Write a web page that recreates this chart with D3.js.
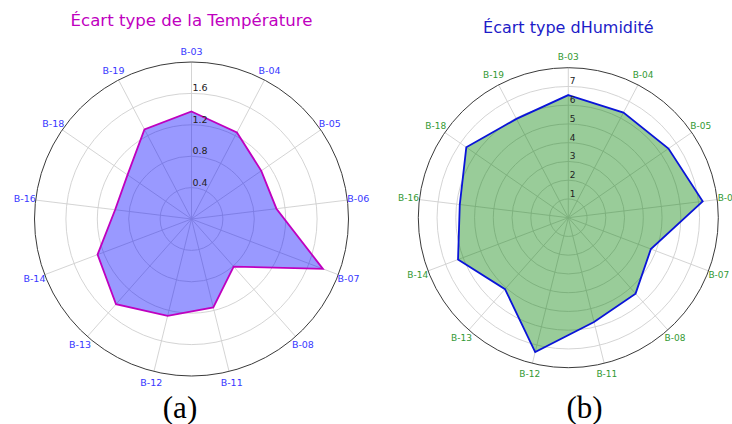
<!DOCTYPE html>
<html>
<head>
<meta charset="utf-8">
<script src="https://cdn.jsdelivr.net/npm/d3@7"></script>
<style>
  html, body { margin: 0; padding: 0; background: #ffffff; }
  svg { display: block; }
</style>
</head>
<body>
<svg id="chart" width="732" height="424"></svg>
<script>
// ---- data ----
const categories = ["B-03","B-04","B-05","B-06","B-07","B-08","B-11","B-12","B-13","B-14","B-16","B-18","B-19"];
const tempStd = [1.37, 1.245, 1.08, 1.09, 1.79, 0.81, 1.16, 1.27, 1.45, 1.28, 0.98, 0.99, 1.29];
const humStd  = [6.54, 6.33, 6.49, 7.22, 4.71, 5.41, 5.73, 7.38, 5.09, 6.29, 5.83, 6.61, 5.95];
const tempTicks = [0.4, 0.8, 1.2, 1.6];
const humTicks = [1, 2, 3, 4, 5, 6, 7];
const tempTitle = "Écart type de la Température";
const humTitle = "Écart type dHumidité";
const captions = ["(a)", "(b)"];

const svg = d3.select("#chart");

function drawRadar(cfg) {
  const g = svg.append("g").attr("transform", `translate(${cfg.cx},${cfg.cy})`);
  const r = d3.scaleLinear().domain([0, cfg.rmax]).range([0, cfg.radius]);
  const angle = d3.scalePoint().domain(categories).range([0, 2 * Math.PI * (categories.length) / categories.length]);
  const step = 2 * Math.PI / categories.length;
  const ang = (d, i) => i * step;

  // grid rings
  g.selectAll("circle.grid").data(cfg.ticks).join("circle")
    .attr("class", "grid").attr("r", d => r(d))
    .attr("fill", "none").attr("stroke", "#cfcfcf").attr("stroke-width", 0.9);

  // spokes
  g.selectAll("line.spoke").data(categories).join("line")
    .attr("class", "spoke")
    .attr("x1", 0).attr("y1", 0)
    .attr("x2", (d, i) => cfg.radius * Math.sin(ang(d, i)))
    .attr("y2", (d, i) => -cfg.radius * Math.cos(ang(d, i)))
    .attr("stroke", "#cfcfcf").attr("stroke-width", 0.9);

  // outer circle
  g.append("circle").attr("r", cfg.radius)
    .attr("fill", "none").attr("stroke", "#3a3a3a").attr("stroke-width", 1);

  // radar polygon
  const line = d3.lineRadial()
    .angle((d, i) => ang(d, i))
    .radius(d => r(d))
    .curve(d3.curveLinearClosed);
  g.append("path").datum(cfg.values)
    .attr("d", line)
    .attr("fill", cfg.fill).attr("fill-opacity", 0.4)
    .attr("stroke", cfg.stroke).attr("stroke-width", 1.8)
    .attr("stroke-linejoin", "miter");

  // radial tick labels
  g.selectAll("text.rtick").data(cfg.ticks).join("text")
    .attr("class", "rtick")
    .attr("x", cfg.tickDx)
    .attr("y", d => -r(d) - 2)
    .attr("font-family", "DejaVu Sans, sans-serif")
    .attr("font-size", cfg.tickSize)
    .attr("fill", "#222")
    .text(d => cfg.tickFmt(d));

  // category labels
  g.selectAll("text.cat").data(categories).join("text")
    .attr("class", "cat")
    .attr("x", (d, i) => cfg.labelR * Math.sin(ang(d, i)))
    .attr("y", (d, i) => -cfg.labelR * Math.cos(ang(d, i)))
    .attr("text-anchor", "middle")
    .attr("dominant-baseline", "central")
    .attr("font-family", "DejaVu Sans, sans-serif")
    .attr("font-size", cfg.labelSize)
    .attr("fill", cfg.labelColor)
    .text(d => d);

  // title
  svg.append("text")
    .attr("x", cfg.cx).attr("y", cfg.titleY)
    .attr("text-anchor", "middle")
    .attr("font-family", "DejaVu Sans, sans-serif")
    .attr("font-size", cfg.titleSize)
    .attr("fill", cfg.titleColor)
    .text(cfg.title);

  // caption
  svg.append("text")
    .attr("x", cfg.capX).attr("y", 418)
    .attr("text-anchor", "middle")
    .attr("font-family", "Liberation Serif, Times New Roman, serif")
    .attr("font-size", 31)
    .attr("fill", "#000")
    .text(cfg.caption);
}

drawRadar({
  cx: 191.5, cy: 219, radius: 157, rmax: 2.0, values: tempStd, ticks: tempTicks,
  tickFmt: d3.format(".1f"), tickDx: 1, tickSize: 9.5,
  fill: "#0000ff", stroke: "#bf00bf",
  labelR: 168, labelSize: 9.5, labelColor: "#3838ff",
  title: tempTitle, titleY: 26, titleSize: 16.6, titleColor: "#bf00bf",
  caption: captions[0], capX: 180
});

drawRadar({
  cx: 568.3, cy: 217.7, radius: 150, rmax: 8, values: humStd, ticks: humTicks,
  tickFmt: d3.format("d"), tickDx: 1.5, tickSize: 9,
  fill: "#008000", stroke: "#0a14d8",
  labelR: 161, labelSize: 9, labelColor: "#339933",
  title: humTitle, titleY: 33, titleSize: 16, titleColor: "#1c1cc8",
  caption: captions[1], capX: 584.5
});
</script>
</body>
</html>
